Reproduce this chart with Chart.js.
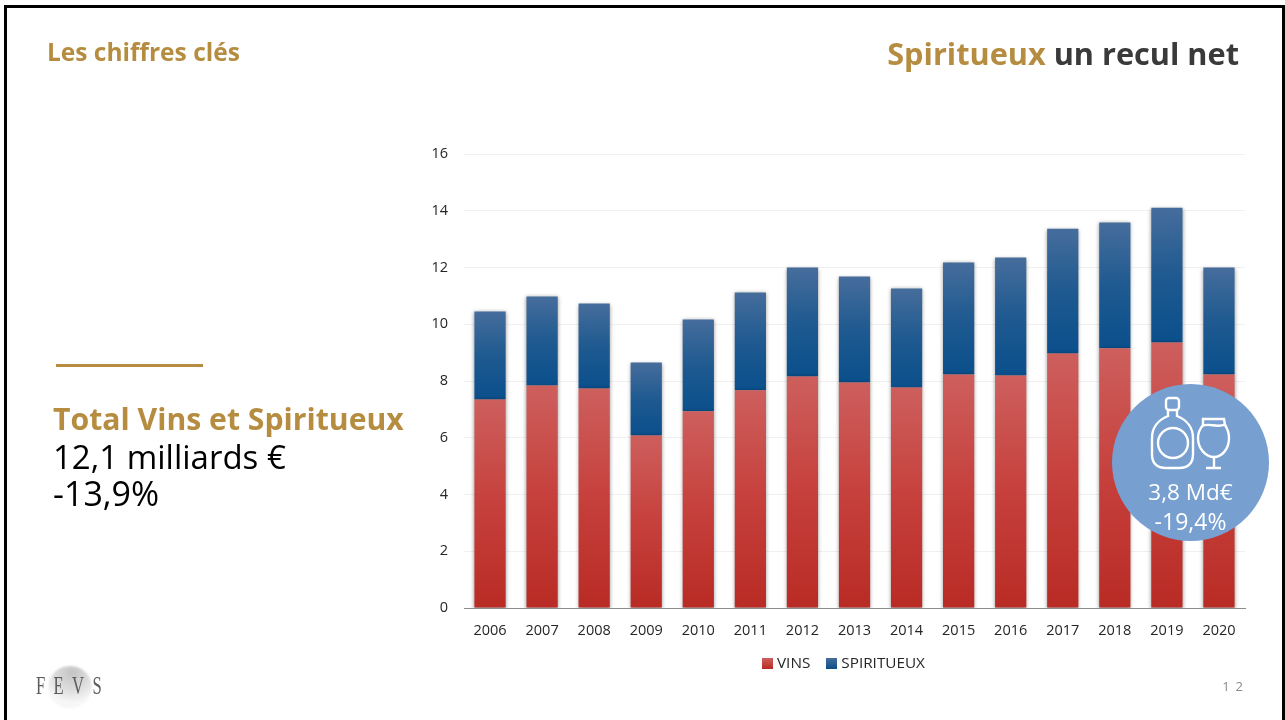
<!DOCTYPE html>
<html lang="fr">
<head>
<meta charset="utf-8">
<title>Les chiffres clés</title>
<script src="https://cdn.jsdelivr.net/npm/chart.js@4/dist/chart.umd.min.js"></script>
<style>
    html, body { margin: 0; padding: 0; background: #fff; }
    #slide { position: relative; width: 1285px; height: 720px; overflow: hidden; font-family: "Open Sans", sans-serif; background: #fff; }
    #frame { position: absolute; left: 4px; top: 5px; width: 1275px; height: 730px; border: 3px solid #000; }
    #chart { position: absolute; left: 0; top: 0; }
    .abs { position: absolute; white-space: nowrap; }
    .gold { color: #b68d40; }
    #kicker { left: 47px; top: 35px; font-size: 24.5px; font-weight: 700; line-height: 34px; }
    #headline { right: 46px; top: 32px; font-size: 30.7px; font-weight: 700; line-height: 42px; color: #3a3a3a; }
    #rule { left: 56px; top: 364px; width: 147px; height: 3px; background: #b68d40; }
    #total { left: 53px; top: 399px; font-size: 33px; line-height: 37.5px; color: #000; }
    #total b { font-size: 30.2px; font-weight: 700; }
    #total span { font-size: 34px; }
    #badge { left: 1112px; top: 384px; width: 157px; height: 157px; border-radius: 50%; background: #779fd0; }
    #badge svg { position: absolute; left: 36px; top: 12px; }
    #badge div { position: absolute; left: 0; width: 157px; text-align: center; color: #fff; font-size: 22.5px; line-height: 28px; }
    #pageno { right: 36px; top: 677px; font-size: 13px; letter-spacing: 6px; color: #8a8a8a; }
    #globe { left: 48px; top: 666px; width: 44px; height: 42px; border-radius: 50%; background: radial-gradient(circle at 55% 15%, #c4c4c4 0%, #dcdcdc 40%, #f8f8f8 72%, #ececec 100%); filter: blur(1px); }
    #logo { left: 36px; top: 671px; font-family: "Liberation Serif", serif; font-size: 26px; letter-spacing: 13px; color: #5c5c5c; transform: scaleX(.64); transform-origin: left center; filter: blur(.6px); }
    #legend { left: 762px; top: 651px; font-size: 15.3px; line-height: 22px; color: #262626; display: flex; }
    #legend span { display: inline-block; }
    #legend i { display: inline-block; width: 11px; height: 11px; margin-right: 4px; vertical-align: -1px; }
    #legend span + span { margin-left: 16px; }
</style>
</head>
<body>
<div id="slide">
    <canvas id="chart" width="1285" height="720"></canvas>
    <div id="frame"></div>
    <div class="abs gold" id="kicker">Les chiffres clés</div>
    <div class="abs" id="headline"><span class="gold">Spiritueux</span> un recul net</div>
    <div class="abs" id="rule"></div>
    <div class="abs" id="total"><b class="gold">Total Vins et Spiritueux</b><br>12,1 milliards €<br><span>-13,9%</span></div>
    <div class="abs" id="legend"></div>
    <div class="abs" id="badge">
        <svg width="84" height="76" viewBox="0 0 84 76" fill="none" stroke="#fff" stroke-width="2.4">
            <rect x="18" y="2" width="13" height="12" rx="3"/>
            <path d="M20 14 v6 C10 24 4 32 4 42 v16 c0 9 5 14 14 14 h13 c9 0 14 -5 14 -14 v-16 C45 32 39 24 29 20 v-6"/>
            <circle cx="25" cy="47" r="15"/>
            <path d="M55 23 h21 l1 6 c4 6 4 12 4 13 c0 11 -7 19 -15 19 c-8 0 -16 -8 -16 -19 c0 -1 0 -7 5 -13 z"/>
            <path d="M54 30 c8 -4 14 3 24 -2"/>
            <path d="M66 61 v11 M58 72 h15"/>
        </svg>
        <div style="top:94px">3,8 Md€</div>
        <div style="top:123px;font-size:23px">-19,4%</div>
    </div>
    <div class="abs" id="pageno">12</div>
    <div class="abs" id="globe"></div>
    <div class="abs" id="logo">FEVS</div>
</div>
<script>
const years = ['2006', '2007', '2008', '2009', '2010', '2011', '2012', '2013', '2014', '2015', '2016', '2017', '2018', '2019', '2020'];
const vins = [7.35, 7.84, 7.74, 6.08, 6.93, 7.67, 8.16, 7.95, 7.77, 8.23, 8.19, 8.97, 9.15, 9.36, 8.23];
const spiritueux = [3.10, 3.14, 2.99, 2.57, 3.24, 3.45, 3.84, 3.73, 3.49, 3.95, 4.16, 4.40, 4.44, 4.75, 3.77];

const redStops = ['#cd5f5d', '#c6403c', '#b92b25'];
const blueStops = ['#466d9c', '#1f5a90', '#0a4f8c'];

const ctx = document.getElementById('chart').getContext('2d');

// Each bar has its own vertical gradient, so build it from the bar's stacked values
function barGradient(context, stops) {
    const chart = context.chart;
    if (context.type !== 'data' || !chart.scales.y) return stops[2];
    const base = context.datasetIndex === 0 ? 0 : vins[context.dataIndex];
    const y0 = chart.scales.y.getPixelForValue(base + context.raw);
    const y1 = chart.scales.y.getPixelForValue(base);
    // the scale has no size yet on the first pass, before layout
    if (!isFinite(y0) || !isFinite(y1)) return stops[2];
    const g = chart.ctx.createLinearGradient(0, y0, 0, y1);
    g.addColorStop(0, stops[0]);
    g.addColorStop(0.5, stops[1]);
    g.addColorStop(1, stops[2]);
    return g;
}

// Soft shadow around the bars, like the original slide
const barShadow = {
    id: 'barShadow',
    beforeDatasetDraw(chart) {
        chart.ctx.save();
        chart.ctx.shadowColor = 'rgba(0,0,0,0.4)';
        chart.ctx.shadowBlur = 4;
        chart.ctx.shadowOffsetY = 1;
    },
    afterDatasetDraw(chart) {
        chart.ctx.restore();
    }
};

const chart = new Chart(ctx, {
    type: 'bar',
    plugins: [barShadow],
    data: {
        labels: years,
        datasets: [
            { label: 'VINS', data: vins, backgroundColor: c => barGradient(c, redStops) },
            { label: 'SPIRITUEUX', data: spiritueux, backgroundColor: c => barGradient(c, blueStops) }
        ]
    },
    options: {
        responsive: false,
        animation: false,
        categoryPercentage: 1,
        barPercentage: 0.6,
        layout: { padding: { left: 420, right: 40, top: 154, bottom: 82 } },
        scales: {
            x: {
                stacked: true,
                grid: { display: false },
                border: { color: '#8c8c8c', width: 1 },
                afterFit: scale => { scale.height = 30; },
                ticks: { color: '#262626', font: { family: 'Open Sans', size: 14.5 }, padding: 6, maxRotation: 0 }
            },
            y: {
                stacked: true,
                min: 0,
                max: 16,
                grid: { color: '#f0f0f0', drawTicks: false },
                border: { display: false },
                afterFit: scale => { scale.width = 44; },
                ticks: { stepSize: 2, color: '#262626', font: { family: 'Open Sans', size: 14.5 }, padding: 16 }
            }
        },
        plugins: {
            tooltip: { enabled: false },
            legend: { display: false }
        }
    }
});

// Legend as html: the text sits closer to the swatch than the built-in one allows
const legendStops = [redStops, blueStops];
chart.data.datasets.forEach((ds, i) => {
    const item = document.createElement('span');
    const swatch = document.createElement('i');
    swatch.style.background = 'linear-gradient(' + legendStops[i][0] + ',' + legendStops[i][2] + ')';
    item.appendChild(swatch);
    item.appendChild(document.createTextNode(ds.label));
    document.getElementById('legend').appendChild(item);
});
</script>
</body>
</html>
